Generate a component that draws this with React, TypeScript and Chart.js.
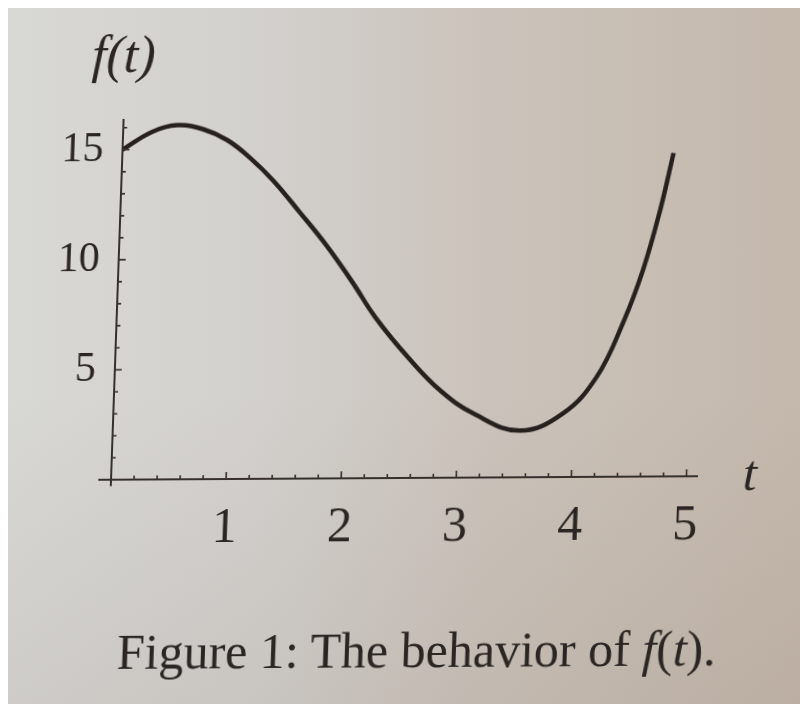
import { useEffect, useRef } from "react";
import { Chart, registerables } from "chart.js";

Chart.register(...registerables);

// Sampled values of f(t)
const tValues = [0, 0.25, 0.47, 0.7, 0.91, 1.11, 1.32, 1.56, 1.8, 2.04, 2.25, 2.55, 2.84, 3.14, 3.54, 3.91, 4.19, 4.4, 4.56, 4.69, 4.79];
const fValues = [15.0, 15.8, 16.1, 15.9, 15.4, 14.6, 13.55, 12.1, 10.6, 8.9, 7.3, 5.45, 3.94, 2.88, 2.12, 2.9, 4.55, 6.97, 9.4, 12.1, 14.7];

// Axis ranges and tick layout
const tMin = 0;
const tMax = 5.1;
const fMin = 0;
const fMax = 16.4;
const tLabels = [1, 2, 3, 4, 5];
const fLabels = [5, 10, 15];
const tMinorStep = 0.2;
const fMinorStep = 1;

const SERIF = '"Liberation Serif", "DejaVu Serif", serif';
const INK = "#2b2623";

const axesFrame = {
  id: "axesFrame",
  afterDraw(chart: any) {
    const { ctx } = chart;
    const xs = chart.scales.x;
    const ys = chart.scales.y;
    const x0 = xs.getPixelForValue(0);
    const y0 = ys.getPixelForValue(0);
    ctx.save();
    ctx.strokeStyle = "#36302c";
    ctx.lineWidth = 2;
    ctx.lineCap = "butt";
    // axis lines, running a little past the origin
    ctx.beginPath();
    ctx.moveTo(xs.getPixelForValue(-0.11), y0);
    ctx.lineTo(xs.getPixelForValue(tMax), y0);
    ctx.moveTo(x0, ys.getPixelForValue(fMax));
    ctx.lineTo(x0, ys.getPixelForValue(-0.3));
    ctx.stroke();

    // inward tick marks
    ctx.lineWidth = 1.6;
    ctx.beginPath();
    const nT = Math.round(5 / tMinorStep);
    for (let k = 1; k <= nT; k++) {
      const v = k * tMinorStep;
      const major = Math.abs(v - Math.round(v)) < 1e-6;
      const px = xs.getPixelForValue(v);
      ctx.moveTo(px, y0);
      ctx.lineTo(px, y0 - (major ? 7 : 4));
    }
    for (let v = fMinorStep; v <= 16; v += fMinorStep) {
      const major = v % 5 === 0;
      const py = ys.getPixelForValue(v);
      ctx.moveTo(x0, py);
      ctx.lineTo(x0 + (major ? 7 : 4), py);
    }
    ctx.stroke();

    // axis names
    ctx.fillStyle = INK;
    ctx.font = `italic 52px ${SERIF}`;
    ctx.textBaseline = "alphabetic";
    ctx.textAlign = "center";
    ctx.fillText("f(t)", x0 - 2, ys.top - 47);
    ctx.font = `italic 50px ${SERIF}`;
    ctx.textAlign = "left";
    ctx.fillText("t", xs.right + 45, y0 + 14);
    ctx.restore();
  },
};

export default function App() {
  const ref = useRef<HTMLCanvasElement>(null);

  useEffect(() => {
    const points = tValues.map((t, i) => ({ x: t, y: fValues[i] }));
    const chart = new Chart(ref.current as HTMLCanvasElement, {
      type: "line",
      data: {
        datasets: [
          {
            data: points,
            borderColor: "#27211e",
            borderWidth: 4.5,
            pointRadius: 0,
            fill: false,
            tension: 0.4,
            clip: 8,
          } as any,
        ],
      },
      options: {
        responsive: false,
        animation: false,
        layout: { padding: { left: 0, right: 110, top: 111, bottom: 0 } },
        plugins: { legend: { display: false }, tooltip: { enabled: false } },
        scales: {
          x: {
            type: "linear",
            min: tMin,
            max: tMax,
            grid: { display: false, drawTicks: false },
            border: { display: false },
            ticks: {
              stepSize: 1,
              includeBounds: false,
              padding: 20,
              autoSkip: false,
              maxRotation: 0,
              color: INK,
              font: { family: SERIF, size: 50 },
              callback: (v: any) => {
                const n = Math.round(Number(v));
                return Math.abs(Number(v) - n) < 1e-6 && tLabels.includes(n) ? String(n) : "";
              },
            },
            afterFit: (s: any) => {
              s.height = 224;
            },
          },
          y: {
            type: "linear",
            min: fMin,
            max: fMax,
            grid: { display: false, drawTicks: false },
            border: { display: false },
            ticks: {
              stepSize: 5,
              includeBounds: false,
              padding: 19,
              autoSkip: false,
              color: INK,
              font: { family: SERIF, size: 42 },
              callback: (v: any) => {
                const n = Math.round(Number(v));
                return Math.abs(Number(v) - n) < 1e-6 && fLabels.includes(n) ? String(n) : "";
              },
            },
            afterFit: (s: any) => {
              s.width = 103;
            },
          },
        },
      },
      plugins: [axesFrame],
    });
    return () => chart.destroy();
  }, []);

  return (
    <div
      style={{
        position: "relative",
        width: 800,
        height: 696,
        overflow: "hidden",
        background:
          "linear-gradient(180deg, rgba(0,0,0,0) 55%, rgba(70,45,25,0.07) 100%), linear-gradient(90deg, #d8d8d5 0%, #d3d1ce 30%, #cbc3bb 60%, #c4b8ac 100%)",
      }}
    >
      <div
        style={{
          position: "absolute",
          left: 0,
          top: 0,
          width: 800,
          height: 696,
          transform: "skew(-2deg, -0.34deg)",
          transformOrigin: "103px 472px",
        }}
      >
        <canvas ref={ref} width={800} height={696} style={{ display: "block" }} />
        <div
          style={{
            position: "absolute",
            left: 115,
            top: 619,
            fontFamily: SERIF,
            fontSize: 50,
            lineHeight: 1,
            color: INK,
            whiteSpace: "nowrap",
          }}
        >
          Figure 1: The behavior of <i>f</i>(<i>t</i>).
        </div>
      </div>
    </div>
  );
}
